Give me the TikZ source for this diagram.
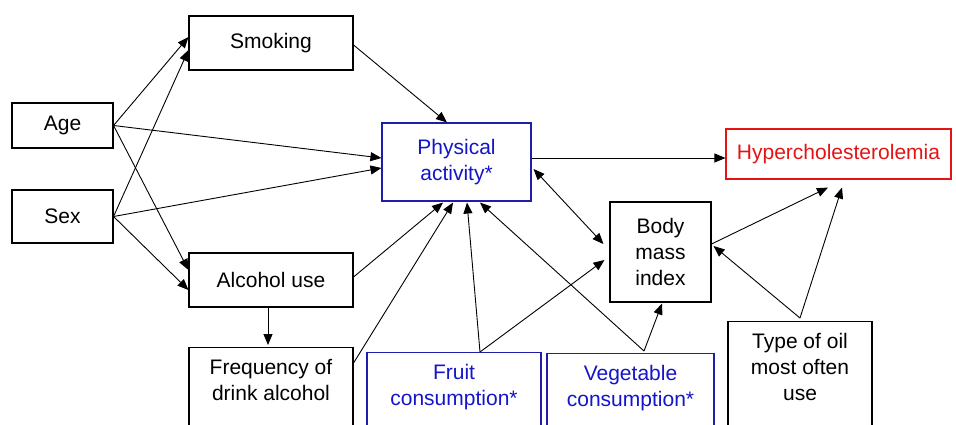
\documentclass[tikz,border=0pt]{standalone}
\usepackage{fontspec}
\setmainfont{Liberation Sans}
\usetikzlibrary{arrows.meta}
\definecolor{bluetxt}{RGB}{20,20,200}
\definecolor{blueline}{RGB}{30,30,170}
\definecolor{redc}{RGB}{228,20,20}
\newcommand\topfill[2]{\parbox[c][140pt][t]{#1}{\centering\vspace*{9pt}\strut #2}}
\begin{document}
\begin{tikzpicture}[x=1pt,y=-1pt,
  box/.style={draw=black, line width=1.1pt, rectangle, align=center, inner sep=0pt,
    font=\fontsize{21}{26}\selectfont},
  bbox/.style={box, draw=blueline, text=bluetxt},
  rbox/.style={box, draw=redc, text=redc},
  arr/.style={-{Triangle[length=11pt,width=9pt]}, line width=0.9pt},
  darr/.style={{Triangle[length=11pt,width=9pt]}-{Triangle[length=11pt,width=9pt]}, line width=0.9pt}]

\useasboundingbox (0,0) rectangle (956,424);
\clip (0,0) rectangle (956,424);

\node[box, minimum width=164pt, minimum height=54pt] (smoking) at (271,43) {Smoking};
\node[box, minimum width=101pt, minimum height=45pt] (age) at (62.5,125.5) {Age};
\node[box, minimum width=101pt, minimum height=53pt] (sex) at (62.5,216.5) {Sex};
\node[bbox, minimum width=149pt, minimum height=78pt] (pa) at (456.5,162) {Physical\\activity*};
\node[rbox, minimum width=225pt, minimum height=50pt] (hyper) at (838.5,154) {Hypercholesterolemia};
\node[box, minimum width=164pt, minimum height=54pt] (alcohol) at (271,280) {Alcohol use};
\node[box, minimum width=101pt, minimum height=100pt] (bmi) at (660.5,252) {Body\\mass\\index};

\node[box, anchor=north] (freq) at (271,347) {\topfill{164pt}{Frequency of\\drink alcohol}};
\node[bbox, anchor=north] (fruit) at (454,352) {\topfill{174pt}{Fruit\\consumption*}};
\node[bbox, anchor=north] (veg) at (630.5,353) {\topfill{167pt}{Vegetable\\consumption*}};
\node[box, anchor=north] (oil) at (800,321) {\topfill{144pt}{Type of oil\\most often\\use}};

\draw[arr] (age.east) -- ([yshift=6pt]smoking.west);
\draw[arr] (sex.east) -- ([yshift=-7pt]smoking.west);
\draw[arr] (age.east) -- ([yshift=4pt]pa.west);
\draw[arr] (sex.east) -- ([yshift=-6pt]pa.west);
\draw[arr] (age.east) -- ([yshift=10pt]alcohol.west);
\draw[arr] (sex.east) -- ([yshift=-10pt]alcohol.west);
\draw[arr] ([yshift=-2pt]smoking.east) -- ([xshift=-9.5pt]pa.north);
\draw[arr] ([yshift=3pt]alcohol.east) -- ([xshift=-13.5pt,yshift=-1pt]pa.south);
\draw[arr] ([yshift=-16pt]freq.north east) -- ([xshift=-3.5pt,yshift=-1pt]pa.south);
\coordinate (fruittop) at ([xshift=26pt]fruit.north);
\draw[arr] (fruittop) -- ([xshift=10.5pt,yshift=-1pt]pa.south);
\draw[arr] (fruittop) -- ([xshift=-5pt,yshift=-8pt]bmi.west);
\coordinate (vegtop) at ([xshift=13.5pt,yshift=2pt]veg.north);
\draw[arr] (vegtop) -- ([xshift=23.5pt,yshift=-1pt]pa.south);
\draw[arr] (vegtop) -- ([xshift=1.5pt,yshift=-1pt]bmi.south);
\draw[darr] ([xshift=2pt,yshift=-7pt]pa.east) -- ([xshift=-6pt,yshift=8pt]bmi.west);
\draw[arr] ([yshift=4pt]pa.east) -- ([yshift=-4pt]hyper.west);
\draw[arr] ([yshift=8pt]bmi.east) -- ([xshift=-10.5pt,yshift=-8pt]hyper.south);
\coordinate (oiltop) at ([yshift=3pt]oil.north);
\draw[arr] (oiltop) -- ([xshift=2pt,yshift=6pt]bmi.east);
\draw[arr] (oiltop) -- ([xshift=3.5pt,yshift=-8pt]hyper.south);
\draw[arr] ([xshift=-3pt]alcohol.south) -- ([xshift=-3pt,yshift=2pt]freq.north);
\end{tikzpicture}
\end{document}
